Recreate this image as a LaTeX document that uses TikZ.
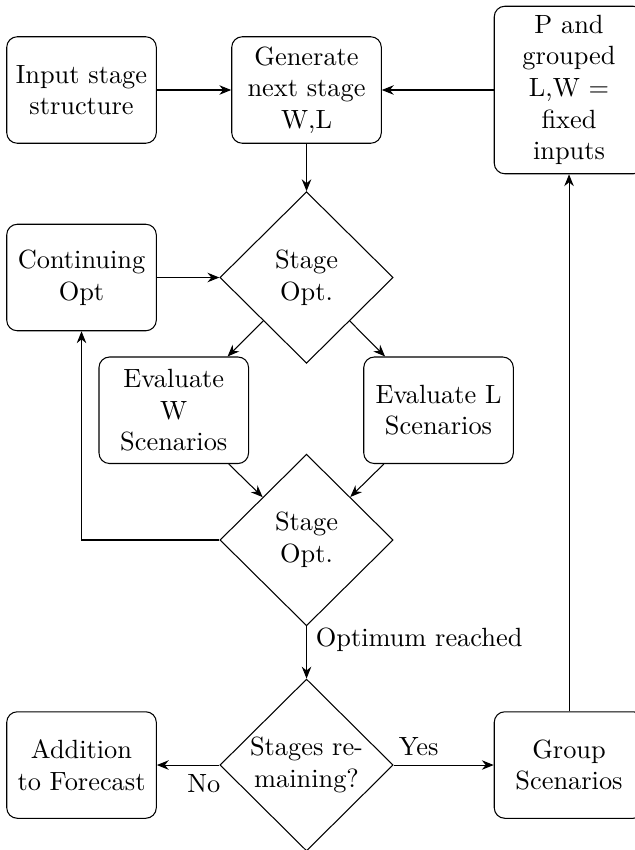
\documentclass[tikz,border=0pt]{standalone}
\usepackage{tikz}
\usetikzlibrary{arrows.meta, positioning, shapes.geometric}

\begin{document}
\begin{tikzpicture}[
  blk/.style={draw,rounded corners=4pt,text width=1.76cm,align=center,
              minimum height=1.42cm},
  dec/.style={draw,diamond,aspect=1,text width=1.55cm,align=center,
              inner sep=0pt,minimum width=2.31cm},
  lnk/.style={-{Stealth[length=4.5pt,width=3.6pt]}}]
\useasboundingbox (-4.087,-10.133) rectangle (4.367,1.2);

% ===== Top row =====
\node[blk] (inp) at (-3,0) {Input stage structure};
\node[blk] (gen) at (0,0) {Generate next stage W,L};
\node[blk] (fix) at (3.5,0) {P and grouped L,W = fixed inputs};

% ===== Optimisation loop =====
\node[blk] (cont) at (-3,-2.5) {Continuing Opt};
\node[dec] (opt1) at (0,-2.5) {Stage Opt.};
\node[blk] (evw) at (-1.77,-4.27) {Evaluate W Scenarios};
\node[blk] (evl) at (1.76,-4.27) {Evaluate L Scenarios};
\node[dec] (opt2) at (0,-6) {Stage Opt.};

% ===== Bottom row =====
\node[blk] (add) at (-3,-9) {Addition to Forecast};
\node[dec] (rem) at (0,-9) {Stages remaining?};
\node[blk] (grp) at (3.5,-9) {Group Scenarios};

% ===== Connectors =====
\draw[lnk] (inp) -- (gen);
\draw[lnk] (fix) -- (gen);
\draw[lnk] (gen) -- (opt1);
\draw[lnk] (cont) -- (opt1);
\draw[lnk] (opt1) -- (evw);
\draw[lnk] (opt1) -- (evl);
\draw[lnk] (evw) -- (opt2);
\draw[lnk] (evl) -- (opt2);
\draw[lnk] (opt2.west) -| (cont.south);
\draw[lnk] (opt2) -- node[right,pos=0.25] {Optimum reached} (rem);
\draw[lnk] (rem) -- node[below,near start] {No} (add);
\draw[lnk] (rem) -- node[above,near start] {Yes} (grp);
\draw[lnk] (grp) -- (fix);
\end{tikzpicture}
\end{document}
